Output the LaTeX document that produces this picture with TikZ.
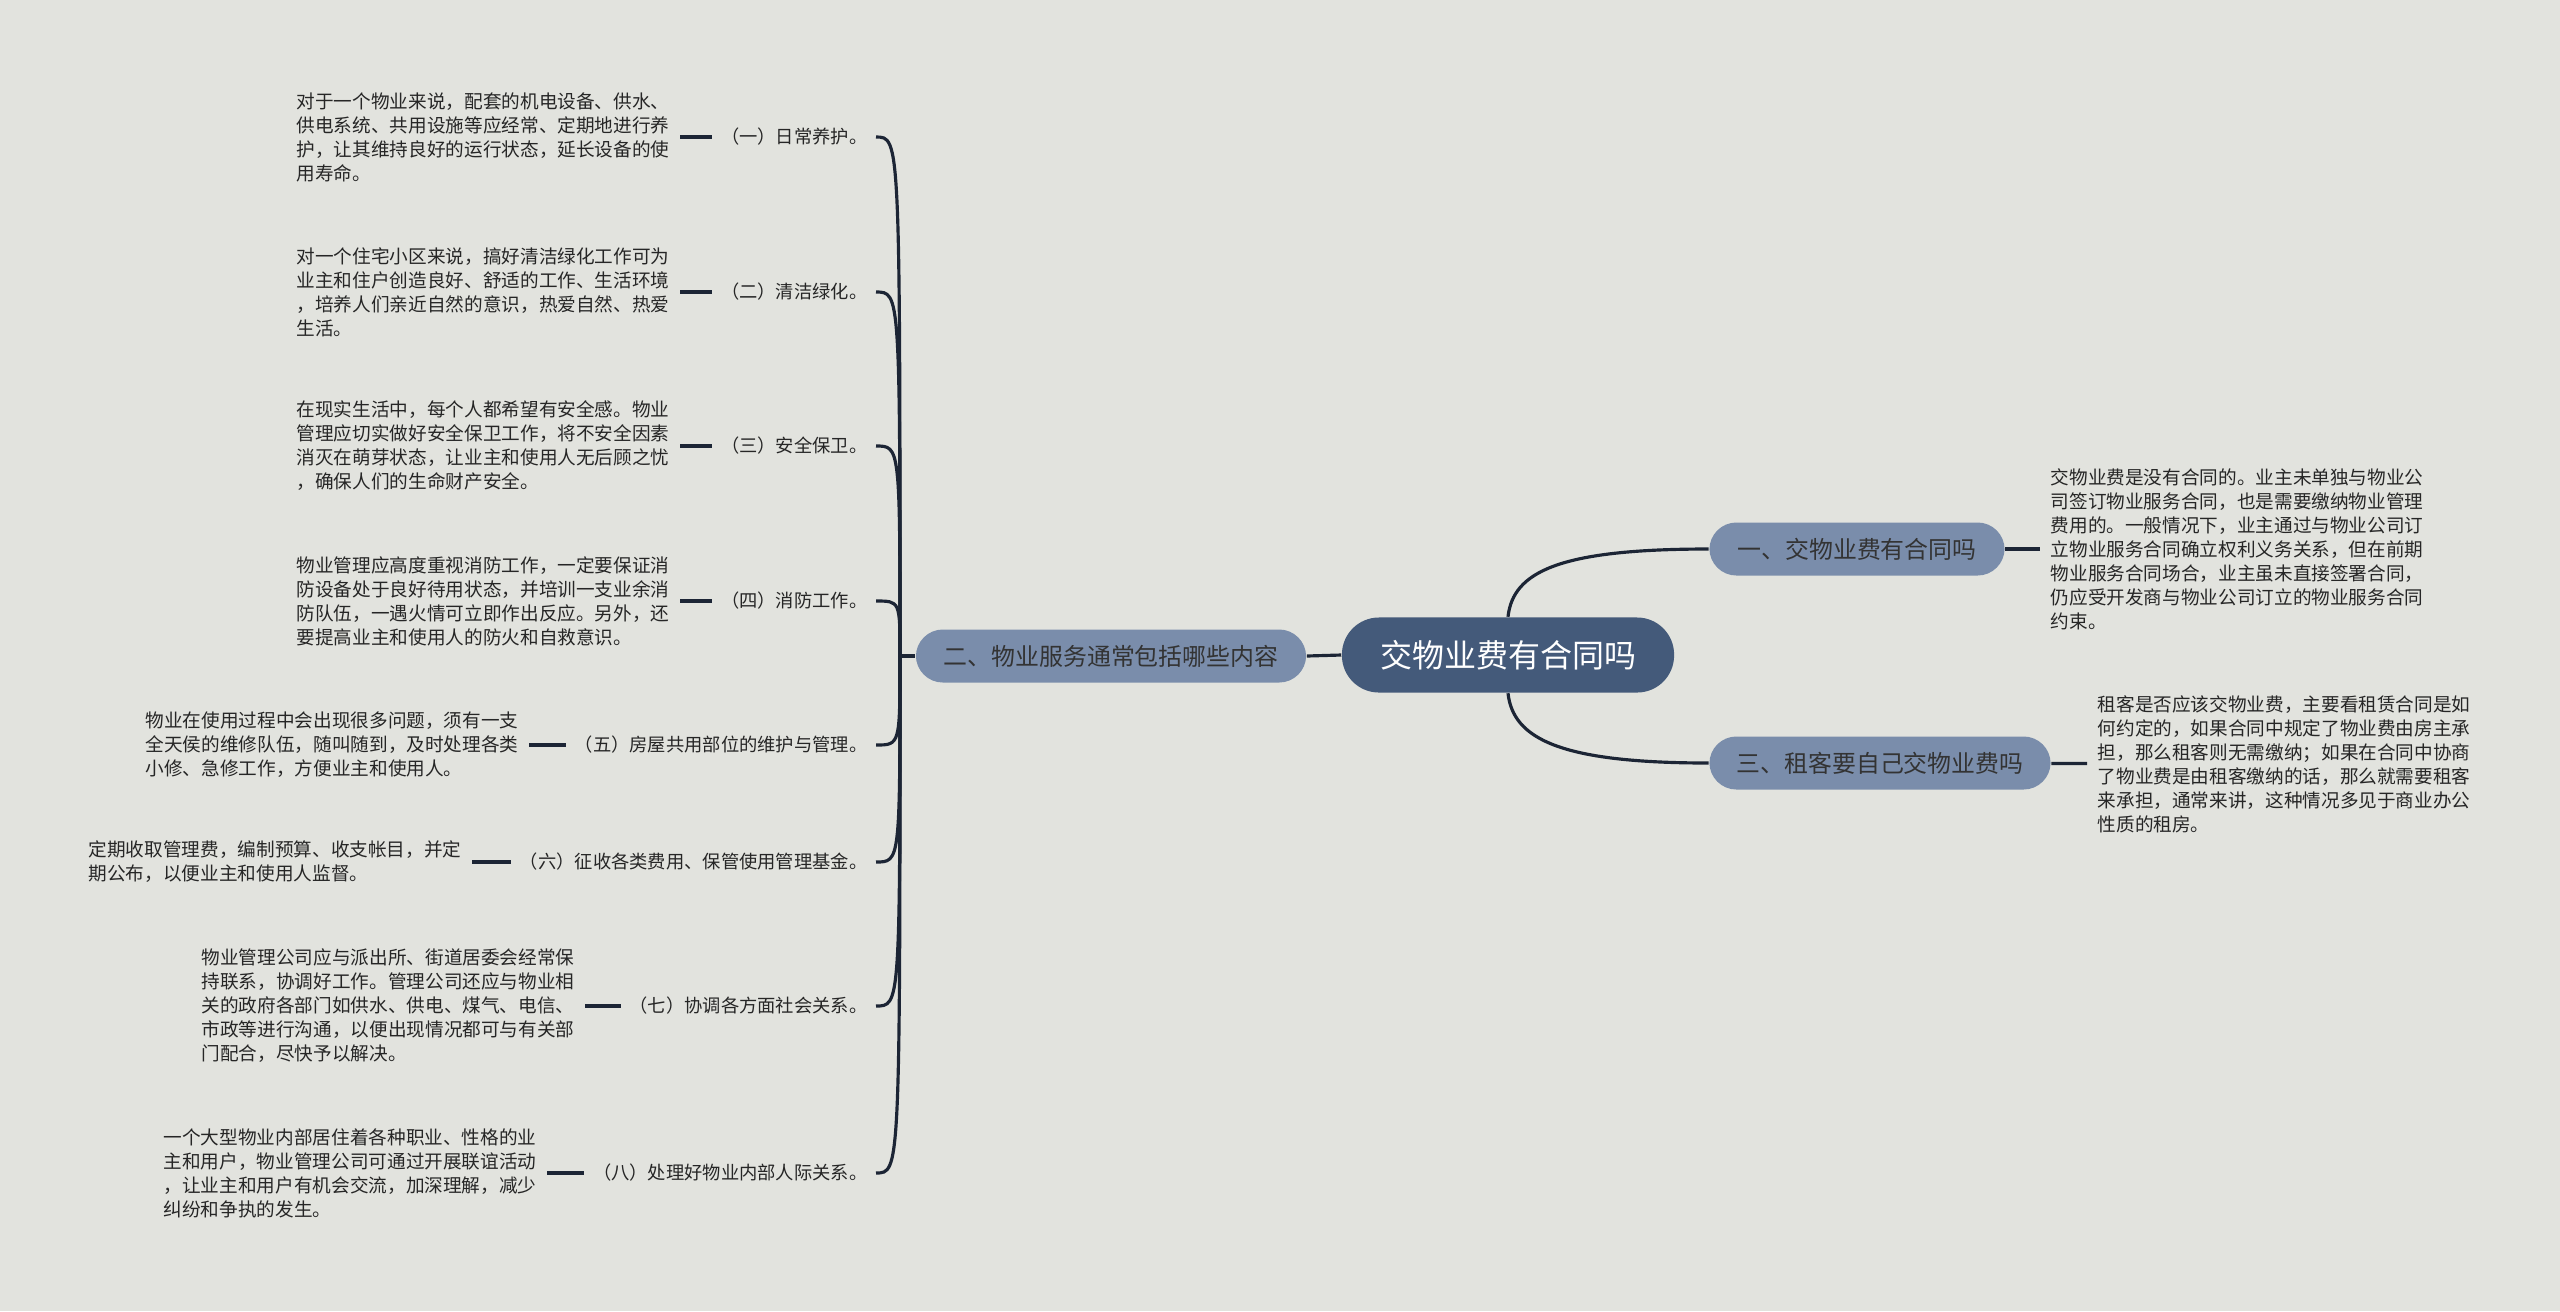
\documentclass[tikz,border=0pt]{standalone}
\usepackage{fontspec}
\newfontfamily\cjk{Noto Sans CJK SC}
\usetikzlibrary{positioning,calc}
\definecolor{paper}{HTML}{E2E3DE}
\definecolor{topicblue}{HTML}{445A7A}
\definecolor{branchblue}{HTML}{7A8DAB}
\definecolor{ink}{HTML}{1C2535}
\definecolor{darktext}{HTML}{333333}

\begin{document}
\begin{tikzpicture}[x=0.01cm,y=-0.01cm,
                    every node/.style={font=\cjk,inner sep=0pt},
                    topic/.style={fill=topicblue,text=white,rounded corners=0.37cm,minimum width=3.32cm,minimum height=0.75cm,font=\cjk\fontsize{9.1}{11}\selectfont},
                    branch/.style={fill=branchblue,text=darktext,rounded corners=0.27cm,minimum height=0.53cm,font=\cjk\fontsize{6.8}{8}\selectfont},
                    leaf/.style={anchor=east,inner xsep=0.08cm,text=black!85,font=\cjk\fontsize{5.2}{6.8}\selectfont},
                    note/.style={anchor=west,align=left,inner xsep=0.1cm,text=black!85,font=\cjk\fontsize{5.3}{6.83}\selectfont},
                    link/.style={draw=ink,line width=0.9pt}]
  \fill[paper] (0,0) rectangle (2560,1311);
  \node[topic] (c) at (1508,655) {交物业费有合同吗};
  \node[branch,minimum width=3.9cm] (b2) at (1111,656) {二、物业服务通常包括哪些内容};
  \node[branch,minimum width=2.95cm] (b1) at (1857,549) {一、交物业费有合同吗};
  \node[branch,minimum width=3.41cm] (b3) at (1880,763) {三、租客要自己交物业费吗};
  \node[note] (d1) at (2040,549) {交物业费是没有合同的。业主未单独与物业公\\司签订物业服务合同，也是需要缴纳物业管理\\费用的。一般情况下，业主通过与物业公司订\\立物业服务合同确立权利义务关系，但在前期\\物业服务合同场合，业主虽未直接签署合同，\\仍应受开发商与物业公司订立的物业服务合同\\约束。};
  \node[note] (d3) at (2087,764) {租客是否应该交物业费，主要看租赁合同是如\\何约定的，如果合同中规定了物业费由房主承\\担，那么租客则无需缴纳；如果在合同中协商\\了物业费是由租客缴纳的话，那么就需要租客\\来承担，通常来讲，这种情况多见于商业办公\\性质的租房。};
  \coordinate (j) at (900,656);
  \node[leaf] (l1) at (876,137)  {（一）日常养护。};
  \node[leaf] (l2) at (876,292)  {（二）清洁绿化。};
  \node[leaf] (l3) at (876,446)  {（三）安全保卫。};
  \node[leaf] (l4) at (876,601)  {（四）消防工作。};
  \node[leaf] (l5) at (876,745)  {（五）房屋共用部位的维护与管理。};
  \node[leaf] (l6) at (876,862)  {（六）征收各类费用、保管使用管理基金。};
  \node[leaf] (l7) at (876,1006) {（七）协调各方面社会关系。};
  \node[leaf] (l8) at (876,1173) {（八）处理好物业内部人际关系。};
  \node[note] (n1) at (286,137)  {对于一个物业来说，配套的机电设备、供水、\\供电系统、共用设施等应经常、定期地进行养\\护，让其维持良好的运行状态，延长设备的使\\用寿命。};
  \node[note] (n2) at (286,292)  {对一个住宅小区来说，搞好清洁绿化工作可为\\业主和住户创造良好、舒适的工作、生活环境\\，培养人们亲近自然的意识，热爱自然、热爱\\生活。};
  \node[note] (n3) at (286,446)  {在现实生活中，每个人都希望有安全感。物业\\管理应切实做好安全保卫工作，将不安全因素\\消灭在萌芽状态，让业主和使用人无后顾之忧\\，确保人们的生命财产安全。};
  \node[note] (n4) at (286,601)  {物业管理应高度重视消防工作，一定要保证消\\防设备处于良好待用状态，并培训一支业余消\\防队伍，一遇火情可立即作出反应。另外，还\\要提高业主和使用人的防火和自救意识。};
  \node[note] (n5) at (135,745)  {物业在使用过程中会出现很多问题，须有一支\\全天侯的维修队伍，随叫随到，及时处理各类\\小修、急修工作，方便业主和使用人。};
  \node[note] (n6) at (78,862)   {定期收取管理费，编制预算、收支帐目，并定\\期公布，以便业主和使用人监督。};
  \node[note] (n7) at (191,1006) {物业管理公司应与派出所、街道居委会经常保\\持联系，协调好工作。管理公司还应与物业相\\关的政府各部门如供水、供电、煤气、电信、\\市政等进行沟通，以便出现情况都可与有关部\\门配合，尽快予以解决。};
  \node[note] (n8) at (153,1173) {一个大型物业内部居住着各种职业、性格的业\\主和用户，物业管理公司可通过开展联谊活动\\，让业主和用户有机会交流，加深理解，减少\\纠纷和争执的发生。};
  \draw[link] (c.west) -- (b2.east);
  \draw[link] (c.north) .. controls ($(c.north)+(5,-45)$) and ($(b1.west)+(-150,0)$) .. (b1.west);
  \draw[link] (c.south) .. controls ($(c.south)+(5,45)$) and ($(b3.west)+(-150,0)$) .. (b3.west);
  \draw[link] (b1) -- (d1);
  \draw[link] (b3) -- (d3);
  \draw[link] (b2.west) -- (j);
  \draw[link] (j) .. controls (j |- l1) .. (l1.east);
  \draw[link] (j) .. controls (j |- l2) .. (l2.east);
  \draw[link] (j) .. controls (j |- l3) .. (l3.east);
  \draw[link] (j) .. controls (j |- l4) .. (l4.east);
  \draw[link] (j) .. controls (j |- l5) .. (l5.east);
  \draw[link] (j) .. controls (j |- l6) .. (l6.east);
  \draw[link] (j) .. controls (j |- l7) .. (l7.east);
  \draw[link] (j) .. controls (j |- l8) .. (l8.east);
  \draw[link] (n1) -- (l1);
  \draw[link] (n2) -- (l2);
  \draw[link] (n3) -- (l3);
  \draw[link] (n4) -- (l4);
  \draw[link] (n5) -- (l5);
  \draw[link] (n6) -- (l6);
  \draw[link] (n7) -- (l7);
  \draw[link] (n8) -- (l8);
\end{tikzpicture}
\end{document}
